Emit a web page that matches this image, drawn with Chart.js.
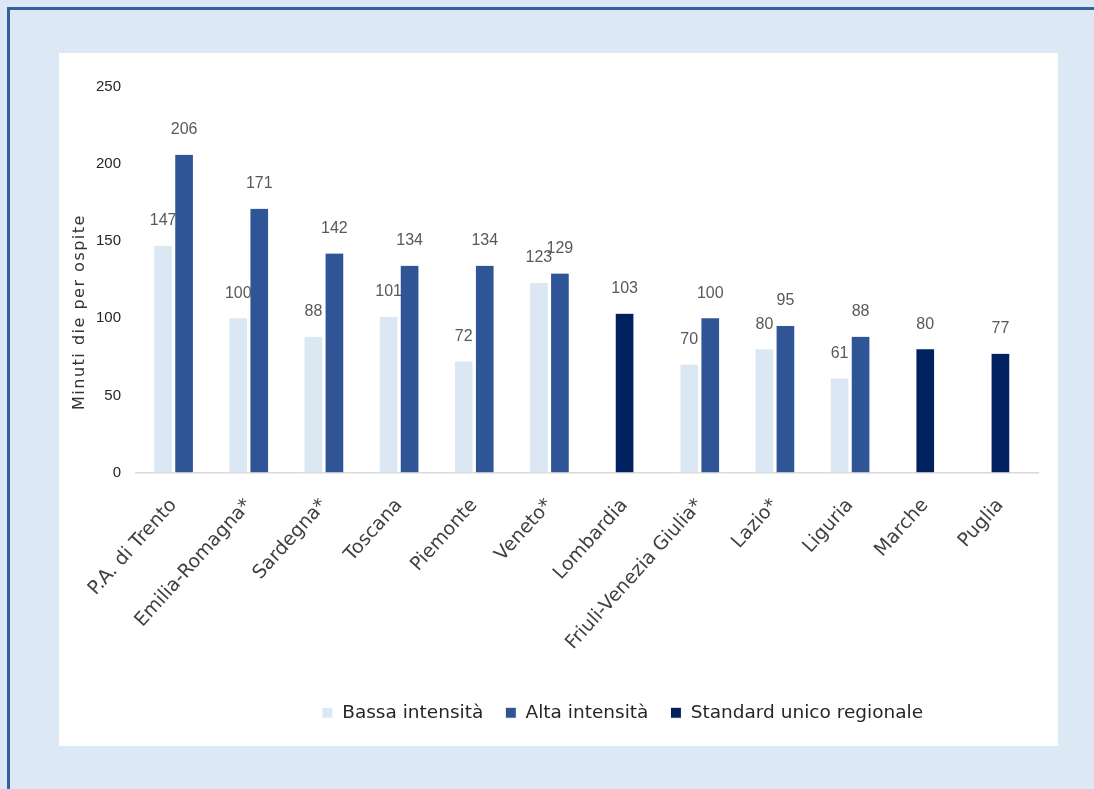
<!DOCTYPE html>
<html>
<head>
<meta charset="utf-8">
<script src="https://cdn.jsdelivr.net/npm/chart.js@4.4.0/dist/chart.umd.min.js"></script>
<style>
    body { margin: 0; background: #dde8f5; }
    #frame {
        position: absolute; left: 7px; top: 7px; width: 1100px; height: 800px;
        border-left: 3px solid #3a5fa0; border-top: 3px solid #3a5fa0;
    }
    #panel {
        position: absolute; left: 59px; top: 53px; width: 999px; height: 693px; background: #fff;
    }
</style>
</head>
<body>
<div id="frame"></div>
<div id="panel"><canvas id="myChart" width="999" height="693"></canvas></div>
<script>
// DATI
const regioni = [
    'P.A. di Trento', 'Emilia-Romagna*', 'Sardegna*', 'Toscana', 'Piemonte', 'Veneto*',
    'Lombardia', 'Friuli-Venezia Giulia*', 'Lazio*', 'Liguria', 'Marche', 'Puglia'
];
const bassaIntensita = [147, 100, 88, 101, 72, 123, null, 70, 80, 61, null, null];
const altaIntensita = [206, 171, 142, 134, 134, 129, null, 100, 95, 88, null, null];
const standardUnico = [null, null, null, null, null, null, 103, null, null, null, 80, 77];
const yTicks = [0, 50, 100, 150, 200, 250];

// etichette sopra le barre
const valueLabels = {
    id: 'valueLabels',
    afterDatasetsDraw(chart) {
        const ctx = chart.ctx;
        ctx.save();
        ctx.font = '16px "Liberation Sans", Arial, sans-serif';
        ctx.fillStyle = '#595959';
        ctx.textAlign = 'center';
        ctx.textBaseline = 'middle';
        chart.data.datasets.forEach((ds, i) => {
            const meta = chart.getDatasetMeta(i);
            meta.data.forEach((bar, j) => {
                if (ds.data[j] === null) return;
                ctx.fillText(ds.data[j], bar.x, bar.y - 25);
            });
        });
        ctx.restore();
    }
};

// titolo asse y
const yTitle = {
    id: 'yTitle',
    afterDraw(chart) {
        const ctx = chart.ctx;
        ctx.save();
        ctx.translate(21, 259);
        ctx.rotate(-Math.PI / 2);
        ctx.font = '16px "DejaVu Sans", sans-serif';
        ctx.letterSpacing = '1.5px';
        ctx.fillStyle = '#3b3030';
        ctx.textAlign = 'center';
        ctx.textBaseline = 'middle';
        ctx.fillText('Minuti die per ospite', 0, 0);
        ctx.restore();
    }
};

// legenda spostata un po' a destra come nell'originale
const shiftLegend = {
    id: 'shiftLegend',
    afterLayout(chart) {
        chart.legend.left += 74;
        chart.legend.right += 74;
    }
};

const ctx = document.getElementById('myChart');
new Chart(ctx, {
    type: 'bar',
    data: {
        labels: regioni,
        datasets: [{
            label: 'Bassa intensità',
            data: bassaIntensita,
            backgroundColor: '#dce7f4',
            borderColor: '#ffffff',
            borderWidth: { left: 2, right: 2, top: 0, bottom: 0 }
        }, {
            label: 'Alta intensità',
            data: altaIntensita,
            backgroundColor: '#2f5597',
            borderColor: '#ffffff',
            borderWidth: { left: 2, right: 2, top: 0, bottom: 0 }
        }, {
            label: 'Standard unico regionale',
            data: standardUnico,
            backgroundColor: '#002060',
            borderColor: '#ffffff',
            borderWidth: { left: 2, right: 2, top: 0, bottom: 0 }
        }]
    },
    options: {
        responsive: false,
        animation: false,
        skipNull: true,
        barThickness: 21,
        layout: { padding: { left: 0, right: 20, top: 34, bottom: 14 } },
        plugins: {
            tooltip: { enabled: false },
            legend: {
                position: 'bottom',
                labels: {
                    boxWidth: 11,
                    boxHeight: 11,
                    padding: 22,
                    color: '#262626',
                    font: { size: 18.5, family: '"DejaVu Sans", sans-serif' }
                }
            }
        },
        scales: {
            x: {
                grid: { display: false, drawTicks: false },
                border: { color: '#d9d9d9', width: 1.5 },
                ticks: {
                    minRotation: 48,
                    maxRotation: 48,
                    padding: 22,
                    color: '#404040',
                    font: { size: 19, family: '"DejaVu Sans", sans-serif' }
                },
                afterFit(scale) { scale.height = 209; }
            },
            y: {
                min: 0,
                max: 250,
                afterBuildTicks(scale) { scale.ticks = yTicks.map(v => ({ value: v })); },
                grid: { display: false, drawTicks: false },
                border: { display: false },
                ticks: {
                    padding: 15,
                    color: '#262626',
                    font: { size: 15, family: '"Liberation Sans", Arial, sans-serif' }
                },
                afterFit(scale) { scale.width = 77; }
            }
        }
    },
    plugins: [valueLabels, yTitle, shiftLegend]
});
</script>
</body>
</html>
